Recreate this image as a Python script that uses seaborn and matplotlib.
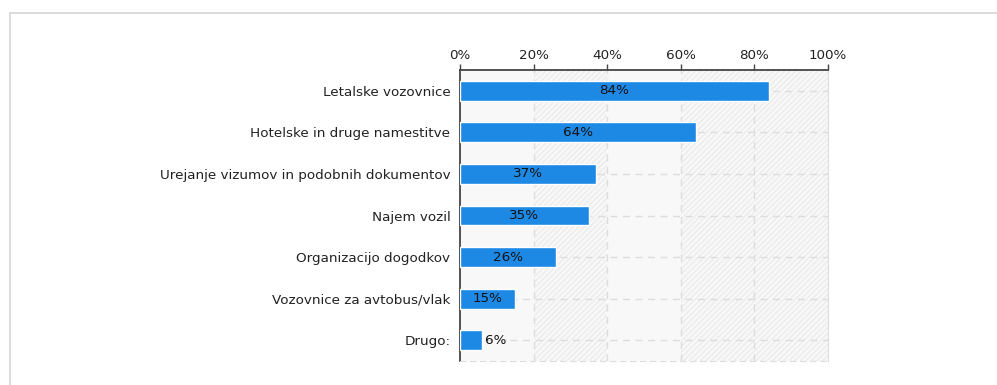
import matplotlib
matplotlib.use("Agg")
import matplotlib.pyplot as plt
import matplotlib.patches as mpatches
import seaborn as sns
import pandas as pd

categories = [
    "Letalske vozovnice",
    "Hotelske in druge namestitve",
    "Urejanje vizumov in podobnih dokumentov",
    "Najem vozil",
    "Organizacijo dogodkov",
    "Vozovnice za avtobus/vlak",
    "Drugo:",
]
values = [84, 64, 37, 35, 26, 15, 6]
tick_values = [0, 20, 40, 60, 80, 100]
tick_labels = ["0%", "20%", "40%", "60%", "80%", "100%"]

df = pd.DataFrame({"category": categories, "value": values})

sns.set_style("white")
plt.rcParams["font.family"] = ["DejaVu Sans"]
FS = 9.7

fig = plt.figure(figsize=(9.97, 3.85), dpi=100)
ax = fig.add_axes([460 / 997, 1 - 361 / 385, 368 / 997, 291 / 385])

# outer frame
fig.patches.append(mpatches.Rectangle((9.5 / 997, -0.1), 1.2, 1 - 12.5 / 385 + 0.1,
                                      transform=fig.transFigure, fill=False,
                                      edgecolor="#d9d9d9", linewidth=1.3))

ax.set_facecolor("#f8f8f8")
# hatched background bands
for i, x0 in enumerate(tick_values[:-1]):
    if i % 2 == 1 or i == 4:
        ax.add_patch(mpatches.Rectangle((x0, -0.5), 20, 7, facecolor="none",
                                        edgecolor="#ececec", hatch="//////",
                                        linewidth=0, zorder=0))

sns.barplot(data=df, x="value", y="category", orient="h", color="#1e88e5",
            saturation=1, width=0.48, ax=ax, zorder=3)

ax.set_xlim(0, 100)
ax.set_ylim(6.5, -0.5)
ax.xaxis.tick_top()
ax.set_xticks(tick_values)
ax.set_xticklabels(tick_labels, fontsize=FS, color="#222222")
ax.tick_params(axis="x", length=4, width=1, color="#444444", pad=2)
ax.tick_params(axis="y", length=4, width=1, color="#444444", labelsize=FS,
               labelcolor="#222222", pad=3)
ax.set_xlabel("")
ax.set_ylabel("")

for x in tick_values[1:-1]:
    ax.axvline(x, color="#dddddd", linestyle=(0, (5, 4)), linewidth=1, zorder=1)
for y in range(len(categories)):
    ax.axhline(y, color="#dddddd", linestyle=(0, (5, 4)), linewidth=1, zorder=1)

for side in ["top", "left"]:
    ax.spines[side].set_color("#444444")
    ax.spines[side].set_linewidth(1.3)
ax.spines["right"].set_color("#dddddd")
ax.spines["bottom"].set_color("#dddddd")
ax.spines["bottom"].set_linestyle((0, (5, 4)))
ax.spines["right"].set_visible(True)
ax.spines["bottom"].set_visible(True)

for i, v in enumerate(values):
    if v >= 10:
        ax.text(v / 2, i, f"{v}%", ha="center", va="center", fontsize=FS,
                color="#111111", zorder=5)
    else:
        ax.text(v + 0.7, i, f"{v}%", ha="left", va="center", fontsize=FS,
                color="#111111", zorder=5)

fig.savefig("out.png", dpi=100)
